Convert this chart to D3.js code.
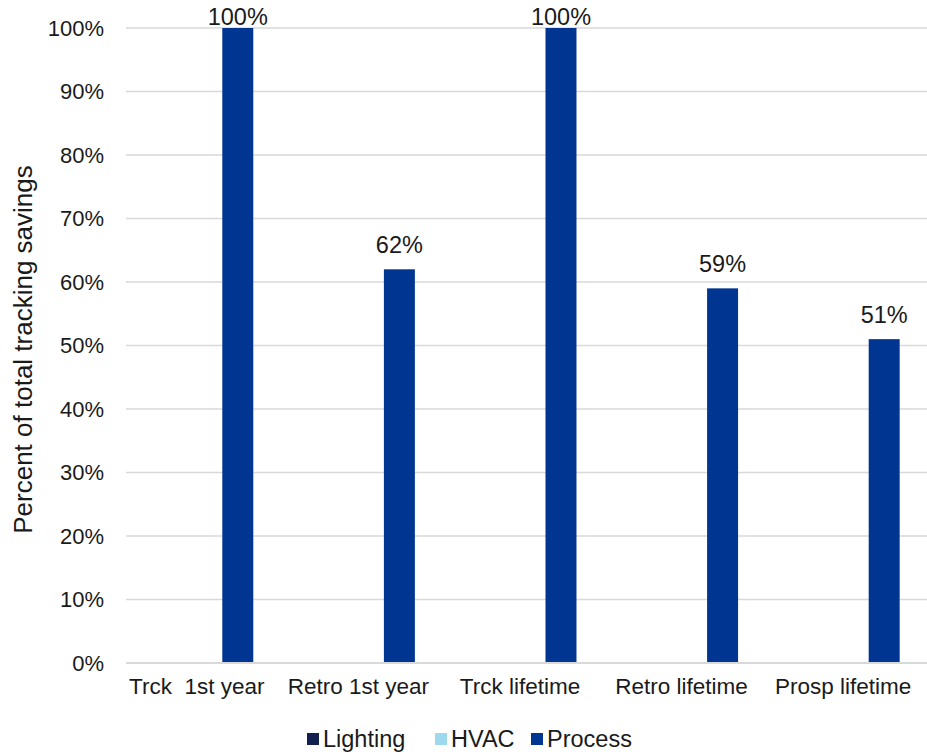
<!DOCTYPE html>
<html>
<head>
<meta charset="utf-8">
<script src="https://cdn.jsdelivr.net/npm/d3@7/dist/d3.min.js"></script>
<style>
  html, body { margin: 0; padding: 0; background: #fff; }
  text { font-family: "Liberation Sans", Arial, sans-serif; fill: #1a1a1a; }
</style>
</head>
<body>
<svg id="chart" width="927" height="752"></svg>
<script>
// Share of tracking savings by end use, per estimate type
const categories = ["Trck  1st year", "Retro 1st year", "Trck lifetime", "Retro lifetime", "Prosp lifetime"];
const seriesNames = ["Lighting", "HVAC", "Process"];
const lighting = [0, 0, 0, 0, 0];
const hvac = [0, 0, 0, 0, 0];
const process = [1.00, 0.62, 1.00, 0.59, 0.51];
const yTicks = [0, 0.1, 0.2, 0.3, 0.4, 0.5, 0.6, 0.7, 0.8, 0.9, 1.0];
const colors = ["#12204f", "#9ddaf0", "#003591"];

const seriesValues = [lighting, hvac, process];
const rows = categories.map((c, i) => ({
  category: c,
  values: seriesNames.map((s, j) => ({ series: s, value: seriesValues[j][i], idx: j }))
}));

const svg = d3.select("#chart");
const margin = { left: 126, top: 28, bottom: 89 };
const plotW = 808;
const plotH = 752 - margin.top - margin.bottom;

const x = d3.scaleBand().domain(categories).range([margin.left, margin.left + plotW]).paddingInner(0).paddingOuter(0);
const inner = d3.scaleBand().domain(seriesNames).range([0, x.bandwidth()]).paddingInner(0).paddingOuter(1.108);
const y = d3.scaleLinear().domain([0, 1]).range([margin.top + plotH, margin.top]);

// gridlines
svg.append("g")
  .selectAll("line")
  .data(yTicks.filter(t => t > 0))
  .join("line")
  .attr("x1", margin.left).attr("x2", margin.left + plotW)
  .attr("y1", d => y(d)).attr("y2", d => y(d))
  .attr("stroke", "#d9d9d9").attr("stroke-width", 1.5);

// y axis labels
const yAxis = d3.axisLeft(y).tickValues(yTicks).tickFormat(d3.format(".0%")).tickSize(0).tickPadding(22);
const gy = svg.append("g").attr("transform", `translate(${margin.left},0)`).call(yAxis);
gy.select(".domain").remove();
gy.selectAll("text").style("font-size", "22px").attr("fill", "#1a1a1a").attr("dy", "0.34em");

// bars
const groups = svg.append("g").selectAll("g")
  .data(rows).join("g")
  .attr("transform", d => `translate(${x(d.category)},0)`);

groups.selectAll("rect")
  .data(d => d.values.filter(v => v.value > 0))
  .join("rect")
  .attr("x", d => inner(d.series))
  .attr("width", inner.bandwidth())
  .attr("y", d => y(d.value))
  .attr("height", d => y(0) - y(d.value))
  .attr("fill", d => colors[d.idx]);

// value labels on the process bars
groups.selectAll("text.val")
  .data(d => d.values.filter(v => v.series === "Process"))
  .join("text")
  .attr("class", "val")
  .attr("x", d => inner(d.series) + inner.bandwidth() / 2)
  .attr("y", d => Math.max(y(d.value) - 16, 25))
  .attr("text-anchor", "middle")
  .style("font-size", "23.5px")
  .text(d => d3.format(".0%")(d.value));

// baseline
svg.append("line")
  .attr("x1", margin.left).attr("x2", margin.left + plotW)
  .attr("y1", y(0)).attr("y2", y(0))
  .attr("stroke", "#d9d9d9").attr("stroke-width", 2);

// x axis labels
const xAxis = d3.axisBottom(x).tickSize(0).tickPadding(15);
const gx = svg.append("g").attr("transform", `translate(-10,${y(0)})`).call(xAxis);
gx.select(".domain").remove();
gx.selectAll("text").style("font-size", "22.5px").attr("fill", "#1a1a1a").style("white-space", "pre");

// y axis title
svg.append("text")
  .attr("transform", `translate(32,${y(0.5) + 4}) rotate(-90)`)
  .attr("text-anchor", "middle")
  .style("font-size", "26px")
  .text("Percent of total tracking savings");

// legend
const legendItems = [
  { name: "Lighting", color: colors[0], x: 307 },
  { name: "HVAC", color: colors[1], x: 435 },
  { name: "Process", color: colors[2], x: 531 }
];
const lg = svg.append("g").selectAll("g").data(legendItems).join("g")
  .attr("transform", d => `translate(${d.x},739)`);
lg.append("rect").attr("x", 0).attr("y", -6).attr("width", 12).attr("height", 12).attr("fill", d => d.color);
lg.append("text").attr("x", 16).attr("y", 0).attr("dy", "0.36em").style("font-size", "23.5px").text(d => d.name);
</script>
</body>
</html>
